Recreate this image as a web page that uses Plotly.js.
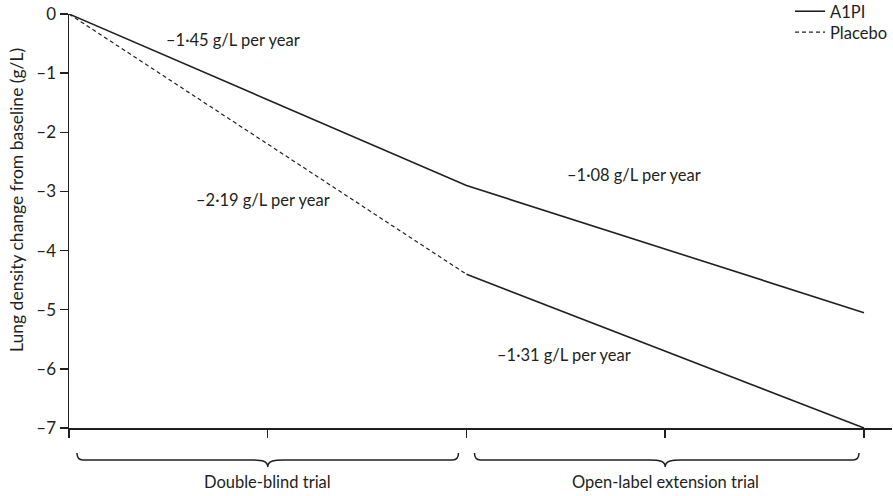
<!DOCTYPE html>
<html>
<head>
<meta charset="utf-8">
<script src="https://cdn.plot.ly/plotly-3.0.1.min.js"></script>
<style>
  html, body { margin: 0; padding: 0; background: #ffffff; }
  #chart { width: 893px; height: 496px; }
</style>
</head>
<body>
<div id="chart"></div>
<script>
// ---- Data ----
const timePoints = [0, 2, 4];
const a1piValues = [0, -2.9, -5.05];
const placeboTime = [0, 2];
const placeboValues = [0, -4.4];
const placeboExtTime = [2, 4];
const placeboExtValues = [-4.4, -7.0];

const seriesNames = ["A1PI", "Placebo"];

const slopeLabels = ["–1·45 g/L per year", "–2·19 g/L per year", "–1·08 g/L per year", "–1·31 g/L per year"];
const slopeX = [0.825, 0.976, 2.845, 2.49];
const slopeY = [-0.44, -3.145, -2.72, -5.77];

const xTicks = [0, 1, 2, 3, 4];
const yTicks = [0, -1, -2, -3, -4, -5, -6, -7];
const yTickText = ["0", "–1", "–2", "–3", "–4", "–5", "–6", "–7"];

const phaseNames = ["Double-blind trial", "Open-label extension trial"];
const phaseStart = [0, 2];
const phaseEnd = [2, 4];

const yTitle = "Lung density change from baseline (g/L)";

// ---- Layout geometry ----
const FIG_W = 893, FIG_H = 496;
const M = { l: 69, r: 1, t: 14, b: 68, autoexpand: false };
const PW = FIG_W - M.l - M.r;
const PH = FIG_H - M.t - M.b;
const xRange = [0, 4.141];
const yRange = [-7, 0];
const INK = "#231f20";
const FONT = "Lato, 'Open Sans', sans-serif";
const FS = 16.5;

function xToPaper(v) { return (v - xRange[0]) / (xRange[1] - xRange[0]); }
function pxX(px) { return px / PW; }          // pixel width -> paper width
function belowPx(px) { return -px / PH; }     // pixels below plot bottom -> paper y
function fromTopPx(py) { return 1 - (py - M.t) / PH; } // figure pixel y -> paper y

// braces
const shapes = [];
const annotations = [];
for (let i = 0; i < phaseNames.length; i++) {
  const x1 = xToPaper(phaseStart[i]) + pxX(8);
  const x2 = xToPaper(phaseEnd[i]) - pxX(i === 0 ? 8 : 5);
  const xm = xToPaper((phaseStart[i] + phaseEnd[i]) / 2);
  const yt = belowPx(25), yl = belowPx(32), yp = belowPx(39);
  const r = pxX(6), r2 = pxX(16);
  const path =
    `M ${x1},${yt} Q ${x1},${yl} ${x1 + r},${yl} ` +
    `L ${xm - r2},${yl} C ${xm - r2 * 0.35},${yl} ${xm},${belowPx(33)} ${xm},${yp} ` +
    `C ${xm},${belowPx(33)} ${xm + r2 * 0.35},${yl} ${xm + r2},${yl} ` +
    `L ${x2 - r},${yl} Q ${x2},${yl} ${x2},${yt}`;
  shapes.push({
    type: "path", xref: "paper", yref: "paper", path: path,
    line: { color: INK, width: 1.5 }
  });
  annotations.push({
    xref: "paper", yref: "paper", x: xm, y: belowPx(54),
    text: phaseNames[i], showarrow: false, xanchor: "center", yanchor: "middle",
    font: { family: FONT, size: FS, color: INK }
  });
}

for (let i = 0; i < slopeLabels.length; i++) {
  annotations.push({
    xref: "x", yref: "y", x: slopeX[i], y: slopeY[i],
    text: slopeLabels[i], showarrow: false, xanchor: "center", yanchor: "middle",
    font: { family: FONT, size: FS, color: INK }
  });
}

annotations.push({
  xref: "paper", yref: "paper", x: (16 - M.l) / PW, y: fromTopPx(200),
  text: yTitle, textangle: -90, showarrow: false, xanchor: "center", yanchor: "middle",
  font: { family: FONT, size: 17.5, color: INK }
});

const traces = [
  {
    x: timePoints, y: a1piValues, name: seriesNames[0], type: "scatter", mode: "lines",
    line: { color: INK, width: 1.6 }, legend: "legend"
  },
  {
    x: placeboTime, y: placeboValues, name: seriesNames[1], type: "scatter", mode: "lines",
    line: { color: INK, width: 1.2, dash: "4px,3px" }, legend: "legend2"
  },
  {
    x: placeboExtTime, y: placeboExtValues, name: seriesNames[1] + " (extension)", type: "scatter", mode: "lines",
    line: { color: INK, width: 1.6 }, showlegend: false
  }
];

function legendAt(centerPy) {
  return {
    x: (790 - M.l) / PW, xanchor: "left",
    y: fromTopPx(centerPy - 19), yanchor: "top",
    bgcolor: "rgba(0,0,0,0)", borderwidth: 0,
    itemwidth: 30, tracegroupgap: 0,
    font: { family: FONT, size: FS, color: INK }
  };
}

const layout = {
  width: FIG_W, height: FIG_H,
  margin: M,
  paper_bgcolor: "#ffffff", plot_bgcolor: "#ffffff",
  font: { family: FONT, size: FS, color: INK },
  showlegend: true,
  legend: legendAt(13),
  legend2: legendAt(34),
  xaxis: {
    range: xRange, showgrid: false, zeroline: false,
    showline: true, linecolor: INK, linewidth: 1.5,
    ticks: "outside", ticklen: 8, tickwidth: 1.5, tickcolor: INK,
    tickmode: "array", tickvals: xTicks, showticklabels: false
  },
  yaxis: {
    range: yRange, showgrid: false, zeroline: false,
    showline: true, linecolor: INK, linewidth: 1.5,
    ticks: "outside", ticklen: 8, tickwidth: 1.5, tickcolor: INK,
    tickmode: "array", tickvals: yTicks, ticktext: yTickText,
    tickfont: { family: FONT, size: 17, color: INK }
  },
  shapes: shapes,
  annotations: annotations
};

Plotly.newPlot("chart", traces, layout, { displayModeBar: false, staticPlot: true });
</script>
</body>
</html>
